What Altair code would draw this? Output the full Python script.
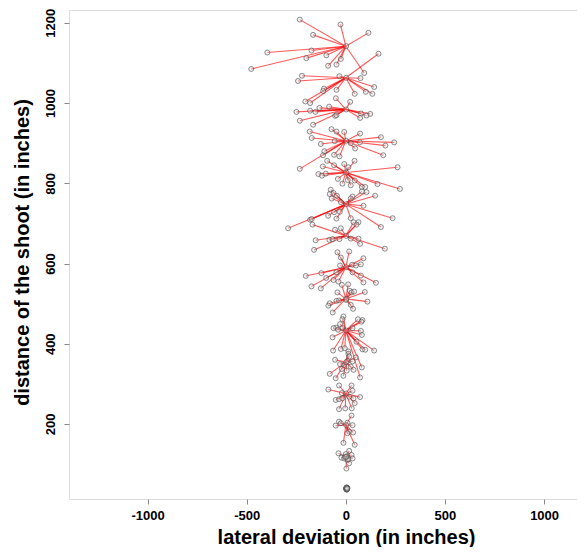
import altair as alt
import pandas as pd

# target distances (inches) for each group: 1, 3, 5, ... 29 metres
centers = [39.4, 118.1, 196.9, 275.6, 354.3, 433.1, 511.8, 590.6,
           669.3, 748.0, 826.8, 905.5, 984.3, 1063.0, 1141.7]

g15_x = [-232, -27, 114, -165, -396, -173, -199, -477, -98, -25, -47, -89, 93, 2]
g15_y = [1208, 1196, 1175, 1170, 1126, 1131, 1112, 1085, 1119, 1110, 1096, 1093, 1075, 1142]

g14_x = [165, -221, -241, 74, 143, -110, -32, -114, -47, 45, 101, 134, -204, -180, 2]
g14_y = [1123, 1068, 1055, 1062, 1040, 1036, 1067, 1030, 1033, 1023, 1028, 1023, 1004, 1000, 1063]

g13_x = [-50, 22, -133, -84, -180, -153, -249, -54, -47, 77, 104, 123, 72, -232, -165, 2]
g13_y = [1012, 1003, 988, 991, 981, 978, 978, 968, 970, 974, 969, 973, 963, 956, 946, 984]

g12_x = [-72, -182, -47, -8, 72, -172, -56, -126, 25, 71, 177, 244, 200, 47, -108,
         -59, -115, 189, -32, -232, 2]
g12_y = [935, 929, 929, 928, 924, 913, 905, 898, 900, 902, 915, 902, 894, 887, 880,
         871, 870, 870, 867, 836, 906]

g11_x = [-94, -59, 44, -8, -116, 13, 261, -138, -120, -101, -40, 10, 45, -17, 25,
         81, 98, 160, 273, 2]
g11_y = [856, 845, 856, 848, 842, 840, 840, 823, 819, 824, 811, 808, 807, 799, 795,
         791, 791, 798, 786, 827]

g10_x = [-76, -62, -81, -45, 81, 104, 34, 25, 148, -71, -25, 89, -59, -30, -89,
         -180, -172, -291, -47, 25, 236, 177, 2]
g10_y = [784, 776, 773, 769, 780, 778, 767, 762, 769, 762, 753, 744, 728, 729, 719,
         709, 711, 688, 712, 713, 713, 691, 748]

g9_x = [-168, 39, 64, 54, -54, -25, -152, -83, -67, -32, 25, 64, 72, 197, -160, 2]
g9_y = [697, 703, 703, 697, 684, 688, 658, 659, 661, 661, 662, 662, 649, 637, 634, 669]

g8_x = [-42, -25, 17, 89, 32, 51, 76, 34, 76, -29, -123, -47, -202, -99, -62, -37,
        89, 152, -173, -126, 2]
g8_y = [628, 615, 630, 613, 597, 595, 598, 578, 570, 595, 576, 578, 569, 564, 559, 555,
        553, 552, 543, 538, 591]

g7_x = [-20, 12, -42, 20, 29, 42, 96, -81, -88, -47, -34, 2, 25, 37, 109, -66, 2]
g7_y = [547, 548, 528, 532, 528, 530, 529, 501, 495, 507, 508, 509, 497, 487, 505, 478, 512]

g6_x = [-12, -17, 61, 84, 79, -29, -49, -62, -17, 34, -39, 76, 81, -67, 54, -64, -25,
        -5, 84, 98, 143, 81, 72, 2]
g6_y = [468, 461, 461, 459, 455, 449, 440, 439, 439, 439, 435, 432, 422, 416, 405, 383, 387,
        389, 386, 385, 383, 341, 316, 433]

g5_x = [13, 13, 17, -54, -29, 8, 34, 51, -8, 25, -20, 5, 39, -81, -12, -51, 2]
g5_y = [381, 375, 368, 360, 349, 357, 356, 366, 347, 343, 337, 333, 335, 325, 320, 314, 354]

g4_x = [-34, -88, 29, 34, -51, -34, -17, 17, -20, 39, 72, -34, -3, 30, 45, 2]
g4_y = [296, 286, 296, 283, 260, 262, 264, 268, 277, 264, 267, 237, 239, 239, 252, 276]

g3_x = [29, -34, -51, -25, 8, 34, 17, 37, 8, -12, 45, 2]
g3_y = [221, 206, 196, 202, 203, 197, 181, 179, 177, 153, 148, 197]

g2_x = [-37, 17, -22, -8, 8, 29, 34, 17, 3, 5, -5, 12, 0, 2]
g2_y = [127, 133, 116, 114, 110, 123, 114, 102, 89, 120, 118, 112, 125, 118]

g1_x = [2, 5, 7, 4, 6, 3, 8, 5, 1, 4, 3, 6, 5, 7]
g1_y = [38, 40, 41, 37, 39, 41, 40, 36, 39, 42, 38, 37, 41, 39]

groups = [(g1_x, g1_y), (g2_x, g2_y), (g3_x, g3_y), (g4_x, g4_y), (g5_x, g5_y),
          (g6_x, g6_y), (g7_x, g7_y), (g8_x, g8_y), (g9_x, g9_y), (g10_x, g10_y),
          (g11_x, g11_y), (g12_x, g12_y), (g13_x, g13_y), (g14_x, g14_y), (g15_x, g15_y)]

rows = []
for i, (gx, gy) in enumerate(groups):
    for xv, yv in zip(gx, gy):
        rows.append({"x": xv, "y": yv, "cx": 0, "cy": centers[i]})
df = pd.DataFrame(rows)

FONT = "Liberation Sans"
xs = alt.Scale(domain=[-1396, 1166], nice=False, zero=False)
ys = alt.Scale(domain=[13, 1232], nice=False, zero=False)

x_axis = alt.Axis(values=[-1000, -500, 0, 500, 1000], labelExpr="datum.value + ''",
                  grid=False, domain=False,
                  tickColor="#888888", tickSize=5, labelPadding=5,
                  labelFont=FONT, labelFontSize=13, labelFontWeight="bold",
                  labelColor="black", labelFlush=False,
                  title="lateral deviation (in inches)", titleFont=FONT,
                  titleFontSize=20, titleFontWeight="bold", titleColor="black",
                  titleX=277, titleY=44, titleBaseline="alphabetic", titleAlign="center")
y_axis = alt.Axis(values=[200, 400, 600, 800, 1000, 1200], labelExpr="datum.value + ''",
                  grid=False, domain=False,
                  tickColor="#888888", tickSize=5, labelPadding=7, labelAngle=270,
                  labelAlign="center", labelBaseline="bottom",
                  labelFont=FONT, labelFontSize=13, labelFontWeight="bold",
                  labelColor="black", labelFlush=False,
                  title="distance of the shoot (in inches)", titleFont=FONT,
                  titleFontSize=20, titleFontWeight="bold", titleColor="black",
                  titleAngle=270, titleX=-41, titleY=242, titleBaseline="alphabetic",
                  titleAlign="center")

lines = alt.Chart(df).mark_rule(color="#ff0000", opacity=0.65, strokeWidth=1.1).encode(
    x=alt.X("cx:Q", scale=xs, axis=x_axis),
    y=alt.Y("cy:Q", scale=ys, axis=y_axis),
    x2="x:Q",
    y2="y:Q",
)

points = alt.Chart(df).mark_point(shape="circle", size=25, filled=False,
                                  fill="#dddddd", fillOpacity=0.35,
                                  stroke="#444444", strokeOpacity=0.75,
                                  strokeWidth=0.8).encode(
    x=alt.X("x:Q", scale=xs, axis=x_axis),
    y=alt.Y("y:Q", scale=ys, axis=y_axis),
)

chart = alt.layer(lines, points).properties(
    width=508, height=489,
    autosize=alt.AutoSizeParams(type="none"),
    padding={"left": 61, "top": 2, "right": 0, "bottom": 48},
).configure_view(stroke="#999999", strokeWidth=1).configure(background="white")

chart.save("out.html", embed_options={"renderer": "svg", "actions": False})
